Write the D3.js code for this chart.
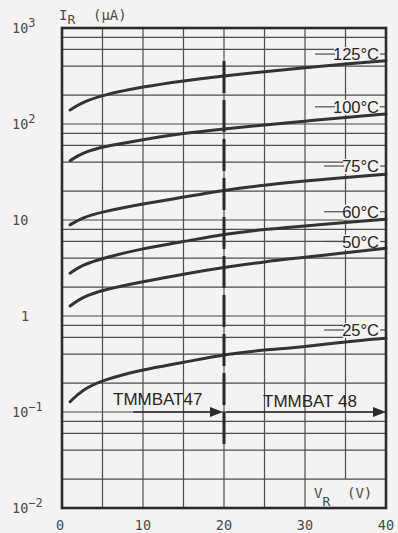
<!DOCTYPE html>
<html>
<head>
<meta charset="utf-8">
<script src="https://cdn.jsdelivr.net/npm/d3@7"></script>
<style>
  html, body { margin: 0; padding: 0; background: #f4f3f1; }
  svg { display: block; }
</style>
</head>
<body>
<div id="chart"></div>
<script>
// reverse voltage (V) where each curve was read
const voltages = [1, 2.5, 5, 10, 15, 20, 25, 30, 35, 40];
// reverse current (µA) per temperature
const ir125 = [140, 168, 200, 245, 282, 318, 351, 386, 422, 457];
const ir100 = [41.5, 50, 58, 69, 80, 89, 98, 107, 117, 127];
const ir75 = [8.9, 10.6, 12.2, 14.7, 17.3, 20.5, 23.1, 25.5, 27.7, 30];
const ir60 = [2.79, 3.4, 4.0, 5.07, 5.94, 7.14, 8.0, 8.66, 9.46, 10.2];
const ir50 = [1.27, 1.57, 1.87, 2.28, 2.74, 3.21, 3.68, 4.08, 4.57, 5.07];
const ir25 = [0.128, 0.17, 0.215, 0.278, 0.327, 0.40, 0.443, 0.479, 0.539, 0.586];
const temps = ['125°C', '100°C', '75°C', '60°C', '50°C', '25°C'];
const tempLabelAt = [535, 151, 36.5, 12.2, 5.97, 0.715];   // current level of each label
const xTicks = [0, 10, 20, 30, 40];
const yTicks = [1000, 100, 10, 1, 0.1, 0.01];
const yTickBase = ['10', '10', '10', '1', '10', '10'];
const yTickExp = ['3', '2', '', '', '−1', '−2'];
const splitVoltage = 20;
const devices = ['TMMBAT47', 'TMMBAT 48'];

const series = [ir125, ir100, ir75, ir60, ir50, ir25];

const W = 398, H = 533;
const svg = d3.select('#chart').append('svg')
    .attr('width', W).attr('height', H);

svg.append('rect').attr('width', W).attr('height', H).attr('fill', '#f4f3f1');

const x = d3.scaleLinear().domain([0, 40]).range([62, 386]);
const y = d3.scaleLog().domain([0.01, 1000]).range([508, 28]);

const gridColor = '#4d4d4d';
const grid = svg.append('g');

// horizontal grid: decades plus 2, 4, 6, 8
const hLines = [];
[0.01, 0.1, 1, 10, 100].forEach(d => {
  [1, 2, 4, 6, 8].forEach(m => hLines.push(d * m));
});
grid.selectAll('line.h')
    .data(hLines)
  .enter().append('line')
    .attr('x1', x(0)).attr('x2', x(40))
    .attr('y1', d => y(d)).attr('y2', d => y(d))
    .attr('stroke', gridColor).attr('stroke-width', 1.2);

// vertical grid every 5 V (35 V stops above the V_R label)
grid.selectAll('line.v')
    .data(d3.range(5, 40, 5))
  .enter().append('line')
    .attr('x1', d => x(d)).attr('x2', d => x(d))
    .attr('y1', y(1000))
    .attr('y2', d => d === 35 ? y(0.02) : y(0.01))
    .attr('stroke', gridColor).attr('stroke-width', 1.2);

// temperature labels knock out the grid
const labelFont = '"Liberation Sans", Arial, sans-serif';
const labels = svg.append('g');
temps.forEach((t, i) => {
  const cy = y(tempLabelAt[i]);
  const right = 379;
  const txt = labels.append('text')
      .attr('x', right).attr('y', cy + 6)
      .attr('text-anchor', 'end')
      .attr('font-family', labelFont)
      .attr('font-size', 16.5)
      .attr('fill', '#262626')
      .text(t);
  const bb = txt.node().getBBox();
  labels.insert('rect', 'text')
      .attr('x', bb.x + 1).attr('y', cy - 7)
      .attr('width', x(40) - bb.x - 1).attr('height', 15)
      .attr('fill', '#f4f3f1');
  labels.insert('line', 'text')
      .attr('x1', bb.x - 18).attr('x2', bb.x + 2)
      .attr('y1', cy).attr('y2', cy)
      .attr('stroke', gridColor).attr('stroke-width', 1.2);
  labels.insert('line', 'text')
      .attr('x1', right + 1).attr('x2', x(40))
      .attr('y1', cy).attr('y2', cy)
      .attr('stroke', gridColor).attr('stroke-width', 1.2);
});

// curves
const line = d3.line()
    .x(d => x(d[0]))
    .y(d => y(d[1]))
    .curve(d3.curveBasis);

svg.append('g').selectAll('path')
    .data(series)
  .enter().append('path')
    .attr('d', s => line(voltages.map((v, i) => [v, s[i]])))
    .attr('fill', 'none')
    .attr('stroke', '#333')
    .attr('stroke-width', 3)
    .attr('stroke-linecap', 'round');

// dashed split line at 20 V
svg.append('line')
    .attr('x1', x(splitVoltage)).attr('x2', x(splitVoltage))
    .attr('y1', 61).attr('y2', 450)
    .attr('stroke', '#2b2b2b')
    .attr('stroke-width', 3)
    .attr('stroke-dasharray', '32,7');

// device arrows
const arrowY = y(0.1);
function arrow(x1, x2) {
  svg.append('line')
      .attr('x1', x1).attr('x2', x2 - 10)
      .attr('y1', arrowY).attr('y2', arrowY)
      .attr('stroke', '#2b2b2b').attr('stroke-width', 1.6);
  svg.append('path')
      .attr('d', `M${x2},${arrowY} L${x2 - 13},${arrowY - 5} L${x2 - 13},${arrowY + 5} Z`)
      .attr('fill', '#2b2b2b');
}
arrow(x(8.8), x(splitVoltage) - 1);
arrow(x(splitVoltage) + 2, x(40));

svg.append('text')
    .attr('x', 113).attr('y', 405)
    .attr('font-family', labelFont).attr('font-size', 17)
    .attr('fill', '#262626')
    .text(devices[0]);
svg.append('text')
    .attr('x', 263).attr('y', 407)
    .attr('font-family', labelFont).attr('font-size', 17)
    .attr('fill', '#262626')
    .text(devices[1]);

// frame
svg.append('rect')
    .attr('x', x(0)).attr('y', y(1000))
    .attr('width', x(40) - x(0)).attr('height', y(0.01) - y(1000))
    .attr('fill', 'none')
    .attr('stroke', '#2a2a2a')
    .attr('stroke-width', 2.6);

// axis labels
const axisFont = '"DejaVu Sans Mono", monospace';
const axisColor = '#4a4a4a';

yTicks.forEach((v, i) => {
  const t = svg.append('text')
      .attr('x', yTickExp[i] === '' && yTickBase[i] === '1' ? 21 : 12)
      .attr('y', y(v) + 5)
      .attr('font-family', axisFont).attr('font-size', 13.5)
      .attr('fill', axisColor);
  t.append('tspan').text(yTickBase[i]);
  if (yTickExp[i]) {
    t.append('tspan')
        .attr('dy', -6).attr('font-size', 12)
        .text(yTickExp[i]);
  }
});

svg.selectAll('text.xt')
    .data(xTicks)
  .enter().append('text')
    .attr('x', d => x(d) - (d === 0 ? 2 : 0))
    .attr('y', 530)
    .attr('text-anchor', 'middle')
    .attr('font-family', axisFont).attr('font-size', 13.5)
    .attr('fill', axisColor)
    .text(d => d);

// I_R (µA)
const iTitle = svg.append('text')
    .attr('x', 59).attr('y', 20)
    .attr('font-family', axisFont).attr('font-size', 14)
    .attr('fill', axisColor);
iTitle.append('tspan').text('I');
iTitle.append('tspan').attr('dy', 4).attr('font-size', 13).text('R');
iTitle.append('tspan').attr('x', 93).attr('dy', -4).text('(µA)');

// V_R (V)
const vTitle = svg.append('text')
    .attr('x', 314).attr('y', 498)
    .attr('font-family', axisFont).attr('font-size', 14)
    .attr('fill', axisColor);
vTitle.append('tspan').text('V');
vTitle.append('tspan').attr('dy', 8).attr('font-size', 13).text('R');
vTitle.append('tspan').attr('x', 347).attr('dy', -8).text('(V)');
</script>
</body>
</html>
